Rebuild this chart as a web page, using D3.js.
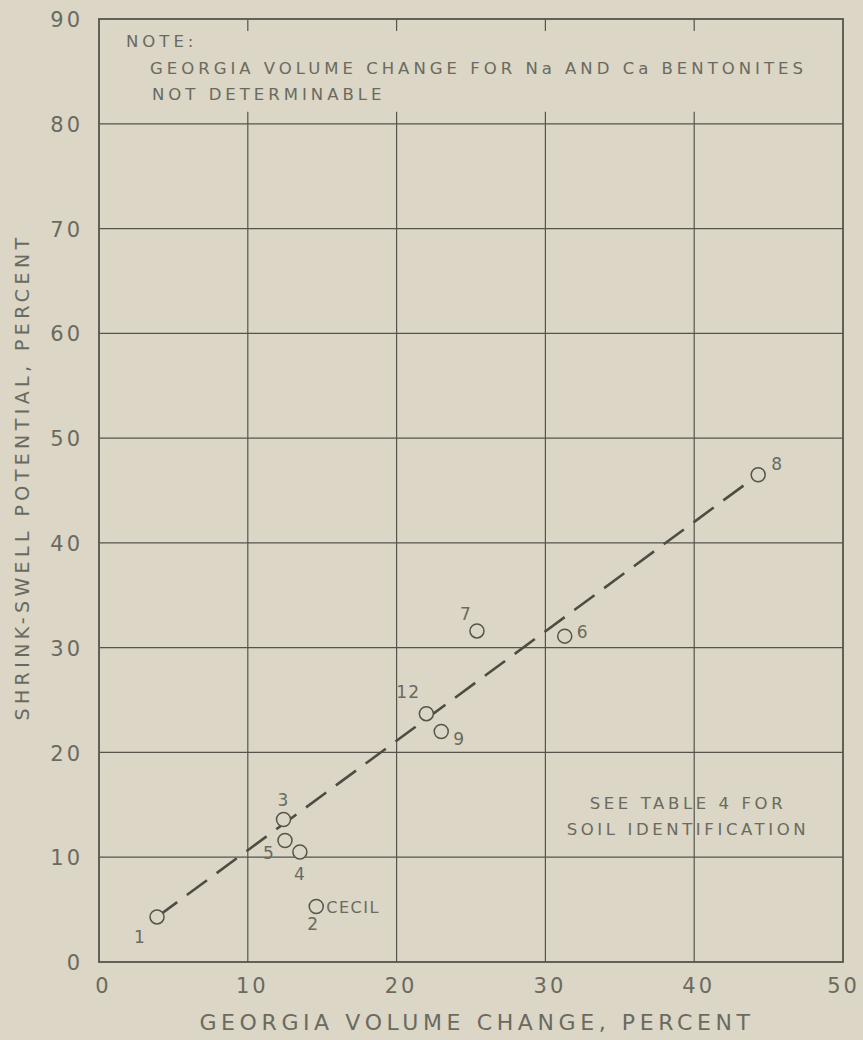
<!DOCTYPE html>
<html>
<head>
<meta charset="utf-8">
<script src="https://cdn.jsdelivr.net/npm/d3@7"></script>
<style>
  body { margin: 0; background: #dbd6c5; }
  svg { display: block; }
  text { font-family: "DejaVu Sans", sans-serif; fill: #6a6a60; }
</style>
</head>
<body>
<div class="chart"></div>
<script>
// Data
let soilIds = ["1", "2", "3", "4", "5", "6", "7", "8", "9", "12"];
let volumeChange = [3.9, 14.6, 12.4, 13.5, 12.5, 31.3, 25.4, 44.3, 23.0, 22.0];
let shrinkSwell = [4.3, 5.3, 13.6, 10.5, 11.6, 31.1, 31.6, 46.5, 22.0, 23.7];
let fitLineX = [3.9, 44.3];
let fitLineY = [4.3, 46.5];
let xTicks = [0, 10, 20, 30, 40, 50];
let yTicks = [0, 10, 20, 30, 40, 50, 60, 70, 80, 90];

let svgWidth = 863;
let svgHeight = 1040;
let margin = { top: 19, right: 20, bottom: 78, left: 99 };
let width = 843 - margin.left;
let height = 962 - margin.top;

let ink = "#55554c";

let svg = d3.select(".chart")
    .append("svg")
    .attr("width", svgWidth)
    .attr("height", svgHeight);

svg.append("rect")
    .attr("width", svgWidth)
    .attr("height", svgHeight)
    .attr("fill", "#dbd6c5");

let chartGroup = svg.append("g")
    .attr("transform", `translate(${margin.left}, ${margin.top})`);

let xScale = d3.scaleLinear().domain([0, 50]).range([0, width]);
let yScale = d3.scaleLinear().domain([0, 90]).range([height, 0]);

// Horizontal grid lines
chartGroup.append("g")
    .selectAll("line")
    .data(yTicks.filter(d => d > 0 && d < 90))
    .enter()
    .append("line")
    .attr("x1", 0)
    .attr("x2", width)
    .attr("y1", d => yScale(d))
    .attr("y2", d => yScale(d))
    .attr("stroke", ink)
    .attr("stroke-width", 1.2);

// Vertical grid lines, interrupted in the note box
let inner = xTicks.filter(d => d > 0 && d < 50);
chartGroup.append("g")
    .selectAll("line")
    .data(inner)
    .enter()
    .append("line")
    .attr("x1", d => xScale(d))
    .attr("x2", d => xScale(d))
    .attr("y1", yScale(80) - 12)
    .attr("y2", height)
    .attr("stroke", ink)
    .attr("stroke-width", 1.2);

chartGroup.append("g")
    .selectAll("line")
    .data(inner)
    .enter()
    .append("line")
    .attr("x1", d => xScale(d))
    .attr("x2", d => xScale(d))
    .attr("y1", 0)
    .attr("y2", 12)
    .attr("stroke", ink)
    .attr("stroke-width", 1.2);

// Frame
chartGroup.append("rect")
    .attr("width", width)
    .attr("height", height)
    .attr("fill", "none")
    .attr("stroke", ink)
    .attr("stroke-width", 1.8);

// Axes (labels only)
let bottomAxis = d3.axisBottom(xScale).tickValues(xTicks).tickSize(0).tickPadding(16);
let leftAxis = d3.axisLeft(yScale).tickValues(yTicks).tickSize(0).tickPadding(16);

let xAxis = chartGroup.append("g")
    .attr("transform", `translate(0, ${height})`)
    .call(bottomAxis);
let yAxis = chartGroup.append("g")
    .call(leftAxis);

[xAxis, yAxis].forEach(function(ax) {
    ax.select(".domain").remove();
    ax.selectAll("text")
        .attr("fill", "#6a6a60")
        .style("font-size", "21px")
        .style("font-family", "DejaVu Sans, sans-serif")
        .style("letter-spacing", "3px");
});
yAxis.selectAll("text").attr("dy", "0.36em");
xAxis.selectAll("text").attr("dx", d => d === 50 ? "0px" : "4px");

// Axis titles
svg.append("text")
    .attr("x", 477)
    .attr("y", 1030)
    .attr("text-anchor", "middle")
    .style("font-size", "22px")
    .style("letter-spacing", "4.6px")
    .text("GEORGIA VOLUME CHANGE, PERCENT");

svg.append("text")
    .attr("transform", "rotate(-90)")
    .attr("x", -477)
    .attr("y", 29)
    .attr("text-anchor", "middle")
    .style("font-size", "19px")
    .style("letter-spacing", "4.4px")
    .text("SHRINK-SWELL POTENTIAL, PERCENT");

// Fitted dashed line
let lineData = fitLineX.map((d, i) => ({ x: d, y: fitLineY[i] }));
chartGroup.append("path")
    .datum(lineData)
    .attr("d", d3.line().x(d => xScale(d.x)).y(d => yScale(d.y)))
    .attr("fill", "none")
    .attr("stroke", "#4d4d45")
    .attr("stroke-width", 2.6)
    .attr("stroke-dasharray", "25,12");

// Points
let points = soilIds.map((d, i) => ({ id: d, x: volumeChange[i], y: shrinkSwell[i] }));

chartGroup.selectAll("circle")
    .data(points)
    .enter()
    .append("circle")
    .attr("cx", d => xScale(d.x))
    .attr("cy", d => yScale(d.y))
    .attr("r", 7)
    .attr("fill", "#dbd6c5")
    .attr("stroke", ink)
    .attr("stroke-width", 1.5);

// Point labels (offset from each point)
let labelOffsets = {
    "1": [-23, 26], "2": [-9, 24], "3": [-6, -14], "4": [-6, 28], "5": [-22, 19],
    "6": [12, 2], "7": [-17, -11], "8": [13, -5], "9": [12, 14], "12": [-30, -16]
};
chartGroup.selectAll(".pt-label")
    .data(points)
    .enter()
    .append("text")
    .attr("class", "pt-label")
    .attr("x", d => xScale(d.x) + labelOffsets[d.id][0])
    .attr("y", d => yScale(d.y) + labelOffsets[d.id][1])
    .style("font-size", "17px")
    .style("letter-spacing", "1px")
    .text(d => d.id);

chartGroup.append("text")
    .attr("x", xScale(14.6) + 10)
    .attr("y", yScale(5.3) + 7)
    .style("font-size", "16px")
    .style("letter-spacing", "1.5px")
    .text("CECIL");

// Notes
let noteLines = [
    { text: "NOTE:", x: 126, y: 47 },
    { text: "GEORGIA VOLUME CHANGE FOR Na  AND Ca BENTONITES", x: 150, y: 74 },
    { text: "NOT DETERMINABLE", x: 152, y: 100 }
];
svg.selectAll(".note")
    .data(noteLines)
    .enter()
    .append("text")
    .attr("class", "note")
    .attr("x", d => d.x)
    .attr("y", d => d.y)
    .style("font-size", "16.5px")
    .style("letter-spacing", "4px")
    .text(d => d.text);

svg.selectAll(".see")
    .data(["SEE TABLE 4 FOR", "SOIL IDENTIFICATION"])
    .enter()
    .append("text")
    .attr("class", "see")
    .attr("x", 688)
    .attr("y", (d, i) => 809 + i * 26)
    .attr("text-anchor", "middle")
    .style("font-size", "16.5px")
    .style("letter-spacing", "3.6px")
    .text(d => d);
</script>
</body>
</html>
